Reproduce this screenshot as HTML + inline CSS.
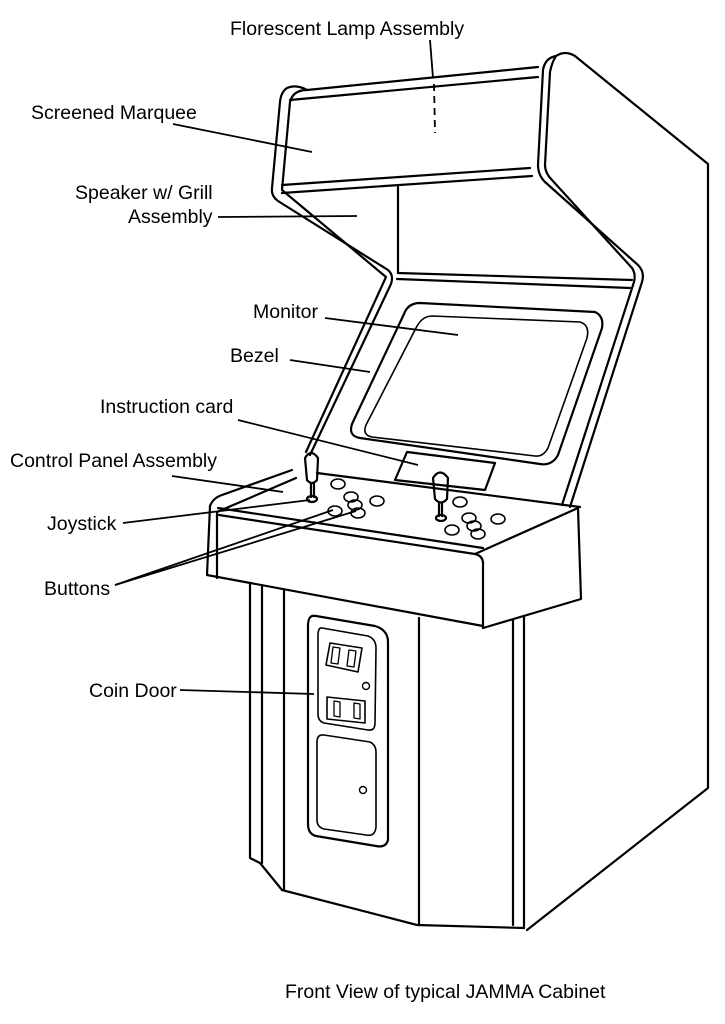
<!DOCTYPE html>
<html><head><meta charset="utf-8"><style>
html,body{margin:0;padding:0;background:#fff;}
svg{display:block;}
text{font-family:"Liberation Sans",Arial,sans-serif;font-size:19.5px;fill:#000;}
</style></head><body>
<svg width="725" height="1024" viewBox="0 0 725 1024" xmlns="http://www.w3.org/2000/svg">
<g fill="none" stroke="#000" stroke-width="2.2" stroke-linejoin="round" stroke-linecap="round">
<path d="M556,56 Q565,50 575,56 L708,164 L708,788 L527,930"/>
<path d="M556,56 Q545,58 543,70 L538,165 Q538,175 545,182 L638,265 Q645,272 642,282 L570,507"/>
<path d="M556,56 Q552,62 550,72 L545,165 Q545,173 552,180 L632,268 Q636,274 634,282 L562,505"/>
<path d="M307,90 Q296,84 287,88 Q281,92 280,102 L272,188 Q271,196 278,201 L388,270 Q394,275 391,284 L310,455"/>
<path d="M307,90 Q293,90 290,102 L282,190 L386,277 L306,452"/>
<path d="M307,90 L538,67"/>
<path d="M290,100 L538,77"/>
<path d="M282,185 L530,168"/>
<path d="M282,193 L532,176"/>
<path d="M398,187 L398,273"/>
<path d="M398,273 L632,280"/>
<path d="M397,279 L630,288"/>
<path d="M420,303 L595,312 Q604,316 602,328 L558,455 Q552,466 540,464 L360,438 Q348,436 352,424 L404,314 Q408,303 420,303 Z"/>
<path d="M432,316 L580,322 Q590,325 587,338 L548,448 Q543,457 535,456 L372,437 Q362,435 366,425 L416,328 Q422,316 432,316 Z" stroke-width="1.6"/>
<path d="M407,452 L495,463 L485,490 L395,480 Z"/>
<path d="M317,473 L580,507"/>
<path d="M210,506 Q213,498 222,495 L292,470"/>
<path d="M217,512 L296,478"/>
<path d="M210,506 L207,575 L483,626"/>
<path d="M219,515 L475,554 Q484,556 483,566 L483,628"/>
<path d="M217,512 L217,578"/>
<path d="M475,554 L578,508 L581,599 L483,628"/>
<path d="M218,508 L483,548"/>
<path d="M250,583 L250,858 L260,863 L282,890 L417,925 L524,928"/>
<path d="M262,585 L262,863"/>
<path d="M284,590 L284,890"/>
<path d="M419,618 L419,925"/>
<path d="M513,620 L513,925"/>
<path d="M524,617 L524,928"/>
<path d="M316,616 L375,626 Q388,630 388,642 L388,840 Q386,848 376,846 L316,836 Q308,834 308,824 L308,626 Q308,614 316,616 Z"/>
<path d="M322,628 L368,636 Q376,639 376,648 L375,723 Q375,731 368,730 L324,723 Q318,721 318,714 L318,636 Q318,627 322,628 Z" stroke-width="1.6"/>
<path d="M324,735 L370,742 Q376,745 376,752 L376,827 Q375,837 366,835 L324,829 Q317,827 317,820 L317,742 Q317,734 324,735 Z" stroke-width="1.6"/>
<path d="M330,643 L362,648 L358,672 L326,665 Z" stroke-width="1.6"/>
<path d="M333,647 L340,648 L338,664 L331,663 Z" stroke-width="1.3"/>
<path d="M349,650 L356,651 L354,667 L347,666 Z" stroke-width="1.3"/>
<path d="M327,697 L365,701 L365,723 L327,719 Z" stroke-width="1.6"/>
<path d="M334,701 L340,702 L340,717 L334,716 Z" stroke-width="1.3"/>
<path d="M354,703 L360,704 L360,719 L354,718 Z" stroke-width="1.3"/>
<circle cx="366" cy="686" r="3.5" stroke-width="1.4"/>
<circle cx="363" cy="790" r="3.5" stroke-width="1.4"/>
<path d="M305,458 Q311,448 318,458 L317,480 Q312,486 307,480 Z"/>
<path d="M311,484 L311,497 M314,484 L314,497"/>
<ellipse cx="312" cy="499" rx="5" ry="3"/>
<path d="M433,478 Q440,467 448,478 L447,499 Q441,506 435,499 Z"/>
<path d="M439,503 L439,516 M442,503 L442,516"/>
<ellipse cx="441" cy="518" rx="5" ry="3"/>
<g stroke-width="1.6">
<ellipse cx="338" cy="484" rx="7" ry="5"/>
<ellipse cx="351" cy="497" rx="7" ry="5"/>
<ellipse cx="355" cy="505" rx="7" ry="5"/>
<ellipse cx="358" cy="513" rx="7" ry="5"/>
<ellipse cx="335" cy="511" rx="7" ry="5"/>
<ellipse cx="377" cy="501" rx="7" ry="5"/>
<ellipse cx="460" cy="502" rx="7" ry="5"/>
<ellipse cx="469" cy="518" rx="7" ry="5"/>
<ellipse cx="474" cy="526" rx="7" ry="5"/>
<ellipse cx="498" cy="519" rx="7" ry="5"/>
<ellipse cx="452" cy="530" rx="7" ry="5"/>
<ellipse cx="478" cy="534" rx="7" ry="5"/>
</g>
</g>
<g stroke="#000" stroke-width="1.8" fill="none">
<path d="M430,40 L433,78"/>
<path d="M434,84 L435,133" stroke-dasharray="7,5"/>
<path d="M173,124 L312,152"/>
<path d="M218,217 L357,216"/>
<path d="M325,318 L458,335"/>
<path d="M290,360 L370,372"/>
<path d="M238,420 L418,465"/>
<path d="M172,476 L283,492"/>
<path d="M123,523 L310,500"/>
<path d="M115,585 L333,510"/>
<path d="M115,585 L356,511"/>
<path d="M180,690 L314,694"/>
</g>
<text x="230" y="35">Florescent Lamp Assembly</text>
<text x="31" y="119">Screened Marquee</text>
<text x="75" y="199">Speaker w/ Grill</text>
<text x="128" y="223">Assembly</text>
<text x="253" y="318">Monitor</text>
<text x="230" y="362">Bezel</text>
<text x="100" y="413">Instruction card</text>
<text x="10" y="467">Control Panel Assembly</text>
<text x="47" y="530">Joystick</text>
<text x="44" y="595">Buttons</text>
<text x="89" y="697">Coin Door</text>
<text x="285" y="998">Front View of typical JAMMA Cabinet</text>
</svg>
</body></html>
